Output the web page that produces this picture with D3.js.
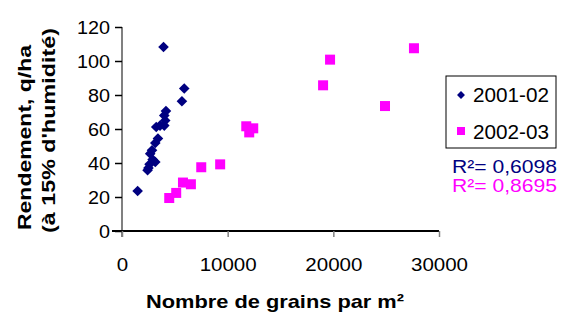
<!DOCTYPE html>
<html>
<head>
<meta charset="utf-8">
<script src="https://cdn.jsdelivr.net/npm/d3@7"></script>
<style>
  body { margin: 0; background: #fff; }
  text { font-family: "Liberation Sans", Arial, sans-serif; }
</style>
</head>
<body>
<svg id="svg" width="562" height="314"></svg>
<script>
// Data
const x0102 = [1480, 2420, 2610, 2670, 2840, 3150, 3150, 3400, 3240, 3600, 4000, 4090, 4000, 4160, 5670, 5890, 3930, 2500, 2900];
const y0102 = [23.5, 35.7, 39.2, 45.5, 47.5, 40.6, 51.8, 54.4, 61.2, 62, 62, 65, 68, 70.6, 76.3, 83.8, 108.2, 37, 42];
const x0203 = [4470, 5130, 5770, 6520, 7500, 9290, 11760, 12040, 12420, 19030, 19690, 24890, 27630];
const y0203 = [19.4, 22.4, 28.5, 27.5, 37.5, 39.2, 61.6, 58, 60.4, 85.7, 100.8, 73.5, 107.5];
const xTicks = [0, 10000, 20000, 30000];
const yTicks = [0, 20, 40, 60, 80, 100, 120];
const seriesNames = ["2001-02", "2002-03"];
const r2Labels = ["R²= 0,6098", "R²= 0,8695"];
const colors = ["#000080", "#ff00ff"];

const svg = d3.select("#svg");
const x = d3.scaleLinear().domain([0, 30000]).range([122, 439]);
const y = d3.scaleLinear().domain([0, 120]).range([231, 27]);

// stretch a text horizontally to a measured width
function fit(sel, w) {
    sel.attr("textLength", w).attr("lengthAdjust", "spacingAndGlyphs");
}

// Y axis (gray line, ticks to the left)
const yAxis = svg.append("g")
    .attr("transform", `translate(${x(0)},0)`)
    .call(d3.axisLeft(y).tickValues(yTicks).tickSize(7).tickPadding(5));
yAxis.select(".domain").attr("stroke", "#808080").attr("stroke-width", 2)
    .attr("d", `M0,${y(120)}V${y(0) + 6}`);
yAxis.selectAll(".tick line").attr("stroke", "#000").attr("stroke-width", 1.5);
yAxis.selectAll(".tick text")
    .attr("font-size", 18)
    .attr("dy", "0.36em")
    .each(function() { fit(d3.select(this), this.getComputedTextLength() * 1.1); });

// X axis (black line, gray ticks downward)
const xAxis = svg.append("g")
    .attr("transform", `translate(0,${y(0)})`)
    .call(d3.axisBottom(x).tickValues(xTicks).tickFormat(d3.format("d")).tickSize(6).tickPadding(0));
xAxis.select(".domain").attr("stroke", "#000").attr("stroke-width", 2)
    .attr("d", `M${x(0) - 10},0H${x(30000)}`);
xAxis.selectAll(".tick line").attr("stroke", "#808080").attr("stroke-width", 1.5);
xAxis.selectAll(".tick text")
    .attr("font-size", 19)
    .attr("y", 40).attr("dy", 0)
    .each(function() { fit(d3.select(this), this.getComputedTextLength() * 1.08); });

svg.selectAll(".tick text")
    .attr("fill", "#000")
    .style("font-family", "'Liberation Sans', Arial, sans-serif");

// Points
const diamond = d3.symbol().type(d3.symbolDiamond2).size(72);
svg.append("g").selectAll("path")
    .data(x0102.map((v, i) => [v, y0102[i]]))
    .join("path")
    .attr("d", diamond)
    .attr("transform", d => `translate(${x(d[0])},${y(d[1])})`)
    .attr("fill", colors[0]);

svg.append("g").selectAll("rect")
    .data(x0203.map((v, i) => [v, y0203[i]]))
    .join("rect")
    .attr("x", d => x(d[0]) - 5)
    .attr("y", d => y(d[1]) - 5)
    .attr("width", 10)
    .attr("height", 10)
    .attr("fill", colors[1]);

// Axis titles
svg.append("text")
    .attr("x", 146)
    .attr("y", 308)
    .attr("font-size", 19)
    .attr("font-weight", "bold")
    .text("Nombre de grains par m²")
    .call(fit, 258);

svg.append("text")
    .attr("transform", "translate(31,230) rotate(-90)")
    .attr("font-size", 18)
    .attr("font-weight", "bold")
    .text("Rendement, q/ha")
    .call(fit, 185);
svg.append("text")
    .attr("transform", "translate(55,233) rotate(-90)")
    .attr("font-size", 18)
    .attr("font-weight", "bold")
    .text("(à 15% d'humidité)")
    .call(fit, 205);

// Legend
const legend = svg.append("g");
legend.append("rect")
    .attr("x", 446).attr("y", 76).attr("width", 110).attr("height", 72)
    .attr("fill", "#fff").attr("stroke", "#000").attr("stroke-width", 1);
legend.append("path")
    .attr("d", d3.symbol().type(d3.symbolDiamond2).size(40))
    .attr("transform", "translate(461,95)")
    .attr("fill", colors[0]);
legend.append("rect")
    .attr("x", 457).attr("y", 127).attr("width", 8).attr("height", 8)
    .attr("fill", colors[1]);
legend.selectAll("text.leg")
    .data(seriesNames)
    .join("text")
    .attr("class", "leg")
    .attr("x", 473)
    .attr("y", (d, i) => 102 + i * 37)
    .attr("font-size", 20)
    .text(d => d)
    .call(fit, 76);

// R² labels
svg.selectAll("text.r2")
    .data(r2Labels)
    .join("text")
    .attr("class", "r2")
    .attr("x", 452)
    .attr("y", (d, i) => 173 + i * 19)
    .attr("font-size", 19)
    .attr("fill", (d, i) => colors[i])
    .text(d => d)
    .call(fit, 105);
</script>
</body>
</html>
